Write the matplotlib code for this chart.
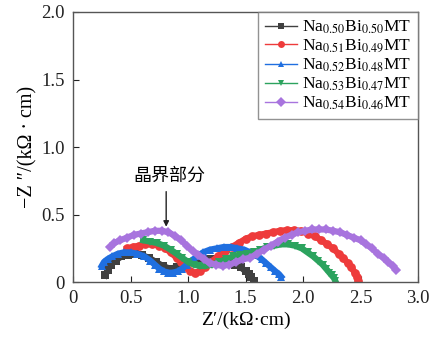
import matplotlib.pyplot as plt

plt.rcParams['font.family'] = ['Liberation Serif', 'Noto Sans CJK SC']
plt.rcParams['mathtext.fontset'] = 'stix'

# Datos
x_050 = [0.28, 0.30, 0.33, 0.37, 0.42, 0.48, 0.54, 0.60, 0.66, 0.72, 0.78, 0.84, 0.90, 0.96,
         1.02, 1.08, 1.14, 1.20, 1.26, 1.31, 1.36, 1.41, 1.46, 1.50, 1.53, 1.55, 1.57]
y_050 = [0.05, 0.09, 0.13, 0.16, 0.19, 0.20, 0.21, 0.20, 0.18, 0.15, 0.12, 0.10, 0.11, 0.13,
         0.15, 0.16, 0.17, 0.17, 0.17, 0.16, 0.15, 0.13, 0.11, 0.08, 0.06, 0.04, 0.01]

x_051 = [0.47, 0.52, 0.57, 0.63, 0.69, 0.75, 0.80, 0.85, 0.90, 0.94, 0.98, 1.02, 1.06, 1.10,
         1.15, 1.20, 1.26, 1.32, 1.38, 1.44, 1.50, 1.56, 1.62, 1.68, 1.74, 1.80, 1.86, 1.92,
         1.98, 2.04, 2.10, 2.16, 2.21, 2.26, 2.31, 2.35, 2.39, 2.42, 2.45, 2.47, 2.48]
y_051 = [0.25, 0.26, 0.27, 0.28, 0.28, 0.27, 0.25, 0.22, 0.18, 0.15, 0.11, 0.08, 0.07, 0.08,
         0.11, 0.15, 0.19, 0.23, 0.26, 0.29, 0.32, 0.34, 0.35, 0.36, 0.37, 0.38, 0.385, 0.385,
         0.38, 0.36, 0.34, 0.31, 0.28, 0.25, 0.21, 0.18, 0.14, 0.11, 0.07, 0.04, 0.01]

x_052 = [0.25, 0.27, 0.30, 0.34, 0.39, 0.44, 0.50, 0.56, 0.62, 0.67, 0.71, 0.75, 0.79, 0.83,
         0.87, 0.91, 0.95, 0.99, 1.03, 1.08, 1.13, 1.19, 1.25, 1.31, 1.37, 1.43, 1.49, 1.54,
         1.59, 1.64, 1.68, 1.72, 1.76, 1.79, 1.81]
y_052 = [0.12, 0.15, 0.17, 0.19, 0.21, 0.22, 0.22, 0.21, 0.19, 0.16, 0.13, 0.10, 0.08, 0.07,
         0.07, 0.08, 0.10, 0.13, 0.16, 0.19, 0.22, 0.24, 0.25, 0.26, 0.26, 0.25, 0.24, 0.22,
         0.20, 0.17, 0.14, 0.11, 0.08, 0.06, 0.04]

x_053 = [0.61, 0.67, 0.73, 0.79, 0.85, 0.90, 0.95, 1.00, 1.05, 1.10, 1.15, 1.21, 1.27, 1.33,
         1.39, 1.45, 1.51, 1.57, 1.63, 1.69, 1.75, 1.81, 1.87, 1.93, 1.99, 2.04, 2.09, 2.13,
         2.17, 2.20, 2.23, 2.25, 2.27, 2.28]
y_053 = [0.31, 0.30, 0.29, 0.27, 0.24, 0.21, 0.18, 0.15, 0.13, 0.12, 0.12, 0.13, 0.15, 0.17,
         0.19, 0.20, 0.21, 0.22, 0.24, 0.26, 0.27, 0.28, 0.28, 0.27, 0.25, 0.22, 0.19, 0.16,
         0.13, 0.10, 0.07, 0.05, 0.03, 0.01]

x_054 = [0.32, 0.36, 0.41, 0.47, 0.53, 0.59, 0.65, 0.71, 0.77, 0.83, 0.89, 0.94, 0.99, 1.04,
         1.09, 1.14, 1.19, 1.24, 1.30, 1.36, 1.42, 1.48, 1.54, 1.60, 1.66, 1.72, 1.78, 1.84,
         1.90, 1.96, 2.02, 2.08, 2.14, 2.20, 2.26, 2.32, 2.38, 2.44, 2.50, 2.55, 2.60, 2.65,
         2.70, 2.74, 2.78, 2.81]
y_054 = [0.26, 0.29, 0.31, 0.33, 0.35, 0.36, 0.37, 0.38, 0.38, 0.37, 0.34, 0.31, 0.27, 0.23,
         0.20, 0.17, 0.14, 0.13, 0.12, 0.13, 0.15, 0.17, 0.18, 0.21, 0.24, 0.27, 0.30, 0.33,
         0.35, 0.37, 0.38, 0.39, 0.39, 0.39, 0.38, 0.37, 0.35, 0.33, 0.31, 0.28, 0.25, 0.21,
         0.18, 0.15, 0.12, 0.09]

series = [
    (x_050, y_050, '#404040', 's', r'Na$_{\mathrm{0.50}}$Bi$_{\mathrm{0.50}}$MT'),
    (x_051, y_051, '#ee3b3b', 'o', r'Na$_{\mathrm{0.51}}$Bi$_{\mathrm{0.49}}$MT'),
    (x_052, y_052, '#1f6fe0', '^', r'Na$_{\mathrm{0.52}}$Bi$_{\mathrm{0.48}}$MT'),
    (x_053, y_053, '#2ca35e', 'v', r'Na$_{\mathrm{0.53}}$Bi$_{\mathrm{0.47}}$MT'),
    (x_054, y_054, '#a874de', 'D', r'Na$_{\mathrm{0.54}}$Bi$_{\mathrm{0.46}}$MT'),
]

fig = plt.figure(figsize=(4.4, 3.42), dpi=100)
ax = fig.add_axes([0.166, 0.175, 0.784, 0.79])

for xs, ys, c, m, lab in series:
    ms = 5.5 if m == 'D' else 6.3
    ax.plot(xs, ys, color=c, marker=m, markersize=ms, linestyle='-', linewidth=4.5,
            markeredgewidth=0, label=lab)

ax.set_xlim(0, 3.0)
ax.set_ylim(0, 2.0)
ax.set_xticks([0, 0.5, 1.0, 1.5, 2.0, 2.5, 3.0])
ax.set_xticklabels(['0', '0.5', '1.0', '1.5', '2.0', '2.5', '3.0'])
ax.set_yticks([0, 0.5, 1.0, 1.5, 2.0])
ax.set_yticklabels(['0', '0.5', '1.0', '1.5', '2.0'])
ax.tick_params(direction='in', length=4, labelsize=13.5, colors='#222222', pad=6)
for s in ax.spines.values():
    s.set_color('#555555')
    s.set_linewidth(1)

ax.set_xlabel('Z′/(kΩ·cm)', fontsize=14, labelpad=3)
ax.set_ylabel('−Z ″/(kΩ · cm)', fontsize=14.5, labelpad=3)

# Anotacion
ax.text(0.84, 0.785, '晶界部分', ha='center', va='center', fontsize=13,
        family=['Noto Sans CJK SC', 'DejaVu Sans'])
ax.annotate('', xy=(0.81, 0.41), xytext=(0.81, 0.67),
            arrowprops=dict(arrowstyle='-|>', color='#222222', lw=1,
                            mutation_scale=8, shrinkA=0, shrinkB=0))

leg = ax.legend(loc='upper right', bbox_to_anchor=(1.0, 1.0), borderaxespad=0,
                fontsize=12.5, frameon=True, fancybox=False, handlelength=1.8,
                handletextpad=0.3, labelspacing=0.1, borderpad=0.4)
leg.get_frame().set_edgecolor('#777777')
leg.get_frame().set_linewidth(1)
for h in leg.get_lines():
    h.set_linewidth(1)
    h.set_markersize(5)
    h.set_alpha(1)

fig.savefig('out.png', dpi=100)
